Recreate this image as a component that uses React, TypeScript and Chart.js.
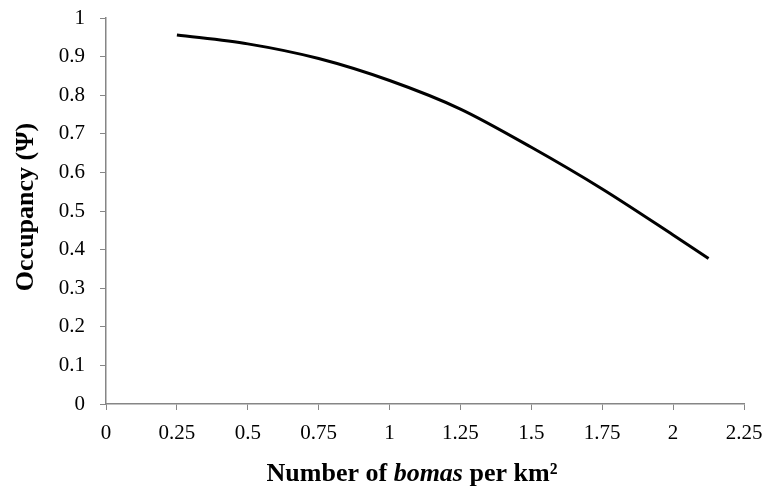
import React, { useEffect, useRef } from "react";
import { Chart, registerables } from "chart.js";

Chart.register(...registerables);

const xValues = [0.25, 0.5, 0.75, 1.0, 1.25, 1.5, 1.75, 2.0, 2.125];
const occupancy = [0.956, 0.933, 0.895, 0.838, 0.764, 0.665, 0.557, 0.438, 0.377];
const yTitle = "Occupancy (Ψ)";
const xTitleParts = [
  { text: "Number of ", style: "bold" },
  { text: "bomas", style: "italic bold" },
  { text: " per km²", style: "bold" },
];

const FONT = "'Liberation Serif', 'Times New Roman', serif";
const AXIS = "#868686";
const TITLE_SIZE = 26;

const titlesPlugin = {
  id: "titles",
  afterDraw(chart: any) {
    const ctx = chart.ctx;
    ctx.save();
    ctx.fillStyle = "#000";
    ctx.textBaseline = "middle";
    // x title (mixed styles)
    ctx.textAlign = "left";
    let total = 0;
    const widths = xTitleParts.map((p) => {
      ctx.font = `${p.style} ${TITLE_SIZE}px ${FONT}`;
      const w = ctx.measureText(p.text).width;
      total += w;
      return w;
    });
    let x = 412 - total / 2;
    const y = chart.height - 16;
    xTitleParts.forEach((p, i) => {
      ctx.font = `${p.style} ${TITLE_SIZE}px ${FONT}`;
      ctx.fillText(p.text, x, y);
      x += widths[i];
    });
    // y title
    ctx.font = `bold ${TITLE_SIZE}px ${FONT}`;
    ctx.textAlign = "center";
    const ys = chart.scales.y;
    ctx.translate(26, (ys.top + ys.bottom) / 2 - 4);
    ctx.rotate(-Math.PI / 2);
    ctx.fillText(yTitle, 0, 0);
    ctx.restore();
  },
};

const fmt = (v: any) => String(Number(Number(v).toFixed(2)));

export default function App() {
  const ref = useRef<HTMLCanvasElement | null>(null);
  useEffect(() => {
    document.body.style.margin = "0";
    const chart = new Chart(ref.current as HTMLCanvasElement, {
      type: "line",
      data: {
        datasets: [
          {
            data: xValues.map((x, i) => ({ x, y: occupancy[i] })),
            borderColor: "#000",
            borderWidth: 3,
            pointRadius: 0,
            tension: 0.3,
            fill: false,
          },
        ],
      },
      options: {
        animation: false,
        responsive: false,
        maintainAspectRatio: false,
        layout: { padding: { top: 18, right: 24, left: 0, bottom: 0 } },
        plugins: { legend: { display: false }, tooltip: { enabled: false } },
        scales: {
          x: {
            type: "linear",
            min: 0,
            max: 2.25,
            afterFit: (s: any) => {
              s.height = 86;
              s.paddingLeft = 0;
              s.paddingRight = 0;
            },
            ticks: {
              stepSize: 0.25,
              color: "#000",
              font: { family: FONT, size: 21 },
              padding: 11,
              maxRotation: 0,
              callback: fmt,
            },
            grid: {
              drawOnChartArea: false,
              drawTicks: true,
              tickLength: 6,
              color: AXIS,
            },
            border: { color: AXIS, width: 1.5 },
          },
          y: {
            min: 0,
            max: 1,
            afterFit: (s: any) => {
              s.width = 106;
              s.paddingTop = 0;
              s.paddingBottom = 0;
            },
            ticks: {
              stepSize: 0.1,
              color: "#000",
              font: { family: FONT, size: 21 },
              padding: 15,
              callback: fmt,
            },
            grid: {
              drawOnChartArea: false,
              drawTicks: true,
              tickLength: 6,
              color: AXIS,
            },
            border: { color: AXIS, width: 1.5 },
          },
        },
      },
      plugins: [titlesPlugin],
    });
    return () => chart.destroy();
  }, []);
  return (
    <div style={{ width: 768, height: 490, background: "#fff" }}>
      <canvas ref={ref} width={768} height={490} style={{ display: "block" }} />
    </div>
  );
}
